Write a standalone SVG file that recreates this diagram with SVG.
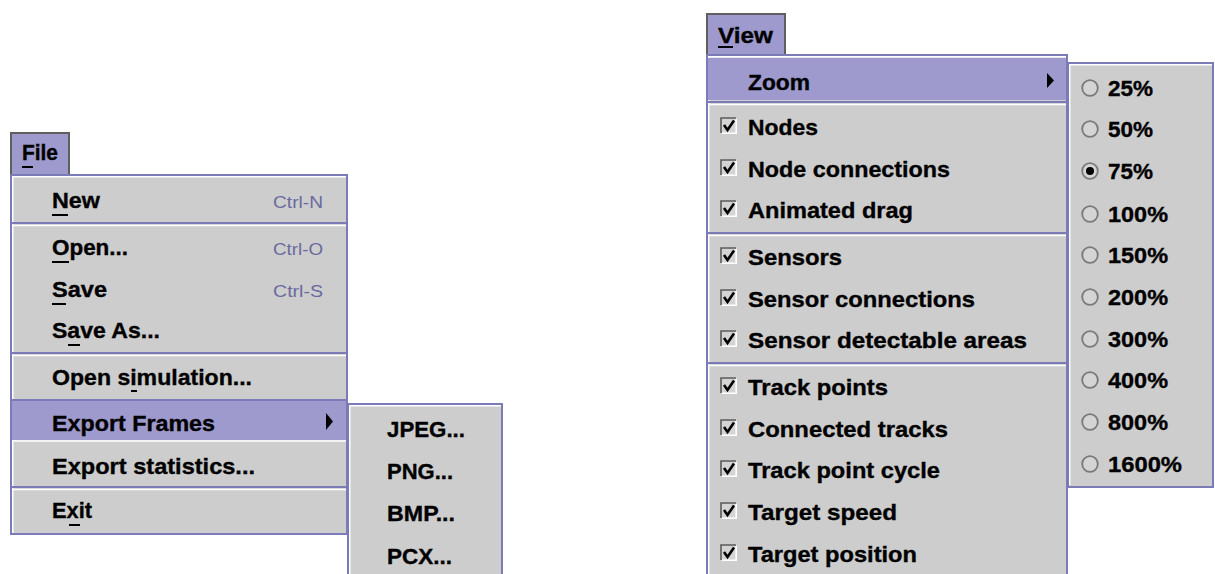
<svg xmlns="http://www.w3.org/2000/svg" width="1215" height="574" viewBox="0 0 1215 574">
<style>
.bg{fill:#cdcdcd}
.hl{fill:#9e9acd}
.bd{fill:none;stroke:#7b7bb8;stroke-width:2}
.inner{fill:none;stroke:#ffffff;stroke-width:1.5}
.hdr{fill:none;stroke:#5f5f5f;stroke-width:2}
.t{font-family:"Liberation Sans",Arial,sans-serif;font-weight:bold;font-size:22px;fill:#000;stroke:#000;stroke-width:0.35}
.acc{font-family:"Liberation Sans",Arial,sans-serif;font-size:16px;fill:#6a6aa0}
.s1{stroke:#7b7bb8;stroke-width:2}
.s2{stroke:#ffffff;stroke-width:1.5}
.ul{stroke:#000;stroke-width:2}
.cbd{fill:none;stroke:#5a5a5a;stroke-width:1.6}
.cbl{fill:none;stroke:#ffffff;stroke-width:1.6}
.ck{fill:none;stroke:#000;stroke-width:2.6;stroke-linejoin:miter}
.rd{fill:#d4d4d4;stroke:#7a7a7a;stroke-width:1.8}
.arr{fill:#000}
</style>

<!-- File menu -->
<g id="file-header">
  <rect x="10" y="132" width="60" height="42" class="hl"/>
  <path d="M11 174 V133 H69 V174" class="hdr"/>
  <text x="22" y="160" class="t" textLength="36" lengthAdjust="spacingAndGlyphs">File</text>
  <line x1="22" y1="167" x2="33" y2="167" class="ul"/>
</g>
<g id="file-menu">
  <rect x="10" y="174" width="338" height="361" class="bg"/>
  <rect x="11" y="175" width="336" height="359" class="bd"/>
  <path d="M12.75 533 V176.75 H346" class="inner"/>
  <g id="file-separators">
    <line x1="12" y1="223" x2="346" y2="223" class="s1"/><line x1="12" y1="225.5" x2="346" y2="225.5" class="s2"/>
    <line x1="12" y1="353" x2="346" y2="353" class="s1"/><line x1="12" y1="355.5" x2="346" y2="355.5" class="s2"/>
    <line x1="12" y1="400" x2="346" y2="400" class="s1"/>
    <line x1="12" y1="487" x2="346" y2="487" class="s1"/><line x1="12" y1="489.5" x2="346" y2="489.5" class="s2"/>
  </g>
  <g id="item-new">
    <text x="52" y="208" class="t" textLength="48" lengthAdjust="spacingAndGlyphs">New</text>
    <line x1="52" y1="215" x2="68" y2="215" class="ul"/>
    <text x="273" y="208" class="acc" textLength="50" lengthAdjust="spacingAndGlyphs">Ctrl-N</text>
  </g>
  <g id="item-open">
    <text x="52" y="255" class="t" textLength="76" lengthAdjust="spacingAndGlyphs">Open...</text>
    <line x1="52" y1="262" x2="69" y2="262" class="ul"/>
    <text x="273" y="255" class="acc" textLength="50" lengthAdjust="spacingAndGlyphs">Ctrl-O</text>
  </g>
  <g id="item-save">
    <text x="52" y="297" class="t" textLength="55" lengthAdjust="spacingAndGlyphs">Save</text>
    <line x1="52" y1="304" x2="66" y2="304" class="ul"/>
    <text x="273" y="297" class="acc" textLength="50" lengthAdjust="spacingAndGlyphs">Ctrl-S</text>
  </g>
  <g id="item-saveas">
    <text x="52" y="338" class="t" textLength="108" lengthAdjust="spacingAndGlyphs">Save As...</text>
    <line x1="68" y1="345" x2="80" y2="345" class="ul"/>
  </g>
  <g id="item-opensim">
    <text x="52" y="385" class="t" textLength="200" lengthAdjust="spacingAndGlyphs">Open simulation...</text>
    <line x1="131" y1="391" x2="137" y2="391" class="ul"/>
  </g>
  <g id="item-exportframes">
    <rect x="12" y="401" width="334" height="39" class="hl"/>
    <line x1="12" y1="441" x2="346" y2="441" class="s2"/>
    <text x="52" y="431" class="t" textLength="163" lengthAdjust="spacingAndGlyphs">Export Frames</text>
    <path d="M326 413 L326 430 L333 421.5 Z" class="arr"/>
  </g>
  <g id="item-exportstats">
    <text x="52" y="474" class="t" textLength="203" lengthAdjust="spacingAndGlyphs">Export statistics...</text>
  </g>
  <g id="item-exit">
    <text x="52" y="518" class="t" textLength="40" lengthAdjust="spacingAndGlyphs">Exit</text>
    <line x1="69" y1="525" x2="80" y2="525" class="ul"/>
  </g>
</g>

<!-- Export submenu -->
<g id="export-submenu">
  <rect x="347" y="403" width="156" height="175" class="bg"/>
  <path d="M348 580 V404 H502 V580" class="bd"/>
  <path d="M349.75 580 V405.75 H501" class="inner"/>
  <g id="item-jpeg"><text x="387" y="437" class="t" textLength="78" lengthAdjust="spacingAndGlyphs">JPEG...</text></g>
  <g id="item-png"><text x="387" y="479" class="t" textLength="66" lengthAdjust="spacingAndGlyphs">PNG...</text></g>
  <g id="item-bmp"><text x="387" y="521" class="t" textLength="68" lengthAdjust="spacingAndGlyphs">BMP...</text></g>
  <g id="item-pcx"><text x="387" y="564" class="t" textLength="65" lengthAdjust="spacingAndGlyphs">PCX...</text></g>
</g>

<!-- View menu -->
<g id="view-header">
  <rect x="706" y="13" width="80" height="41" class="hl"/>
  <path d="M707 54 V14 H785 V54" class="hdr"/>
  <text x="718" y="43" class="t" textLength="55" lengthAdjust="spacingAndGlyphs">View</text>
  <line x1="718" y1="47" x2="733" y2="47" class="ul"/>
</g>
<defs>
  <g id="chk">
    <rect x="0" y="0" width="17" height="17" fill="#d4d4d4"/>
    <path d="M1 16 V1 H16" class="cbd"/>
    <path d="M2 16.2 H16.2 V2" class="cbl"/>
    <path d="M4 8 L7.5 13 L14 3.5" class="ck"/>
  </g>
</defs>
<g id="view-menu">
  <rect x="706" y="54" width="362" height="530" class="bg"/>
  <path d="M707 580 V55 H1067 V580" class="bd"/>
  <path d="M708.75 580 V56.75 H1066" class="inner"/>
  <g id="view-separators">
    <line x1="708" y1="102" x2="1066" y2="102" class="s1"/><line x1="708" y1="104.5" x2="1066" y2="104.5" class="s2"/>
    <line x1="708" y1="233" x2="1066" y2="233" class="s1"/><line x1="708" y1="235.5" x2="1066" y2="235.5" class="s2"/>
    <line x1="708" y1="363" x2="1066" y2="363" class="s1"/><line x1="708" y1="365.5" x2="1066" y2="365.5" class="s2"/>
  </g>
  <g id="item-zoom">
    <rect x="708" y="58" width="358" height="42" class="hl"/>
    <text x="748" y="90" class="t" textLength="62" lengthAdjust="spacingAndGlyphs">Zoom</text>
    <path d="M1047 73 L1047 88 L1054 80.5 Z" class="arr"/>
  </g>
  <g id="item-nodes">
    <use href="#chk" x="720" y="117"/>
    <text x="748" y="135" class="t" textLength="70" lengthAdjust="spacingAndGlyphs">Nodes</text>
  </g>
  <g id="item-nodeconn">
    <use href="#chk" x="720" y="159"/>
    <text x="748" y="177" class="t" textLength="202" lengthAdjust="spacingAndGlyphs">Node connections</text>
  </g>
  <g id="item-animdrag">
    <use href="#chk" x="720" y="200"/>
    <text x="748" y="218" class="t" textLength="165" lengthAdjust="spacingAndGlyphs">Animated drag</text>
  </g>
  <g id="item-sensors">
    <use href="#chk" x="720" y="247"/>
    <text x="748" y="265" class="t" textLength="94" lengthAdjust="spacingAndGlyphs">Sensors</text>
  </g>
  <g id="item-sensorconn">
    <use href="#chk" x="720" y="289"/>
    <text x="748" y="307" class="t" textLength="227" lengthAdjust="spacingAndGlyphs">Sensor connections</text>
  </g>
  <g id="item-sensorareas">
    <use href="#chk" x="720" y="330"/>
    <text x="748" y="348" class="t" textLength="279" lengthAdjust="spacingAndGlyphs">Sensor detectable areas</text>
  </g>
  <g id="item-trackpoints">
    <use href="#chk" x="720" y="377"/>
    <text x="748" y="395" class="t" textLength="140" lengthAdjust="spacingAndGlyphs">Track points</text>
  </g>
  <g id="item-conntracks">
    <use href="#chk" x="720" y="419"/>
    <text x="748" y="437" class="t" textLength="200" lengthAdjust="spacingAndGlyphs">Connected tracks</text>
  </g>
  <g id="item-trackcycle">
    <use href="#chk" x="720" y="460"/>
    <text x="748" y="478" class="t" textLength="192" lengthAdjust="spacingAndGlyphs">Track point cycle</text>
  </g>
  <g id="item-targetspeed">
    <use href="#chk" x="720" y="502"/>
    <text x="748" y="520" class="t" textLength="149" lengthAdjust="spacingAndGlyphs">Target speed</text>
  </g>
  <g id="item-targetpos">
    <use href="#chk" x="720" y="544"/>
    <text x="748" y="562" class="t" textLength="169" lengthAdjust="spacingAndGlyphs">Target position</text>
  </g>
</g>

<!-- Zoom submenu -->
<g id="zoom-submenu">
  <rect x="1067" y="62" width="147" height="426" class="bg"/>
  <rect x="1068" y="63" width="145" height="424" class="bd"/>
  <path d="M1069.75 485 V64.75 H1212" class="inner"/>
  <g id="z25"><circle cx="1090" cy="88" r="7.8" class="rd"/><text x="1108" y="96" class="t" textLength="45" lengthAdjust="spacingAndGlyphs">25%</text></g>
  <g id="z50"><circle cx="1090" cy="129" r="7.8" class="rd"/><text x="1108" y="137" class="t" textLength="45" lengthAdjust="spacingAndGlyphs">50%</text></g>
  <g id="z75"><circle cx="1090" cy="171" r="7.8" class="rd"/><circle cx="1090" cy="171" r="4" fill="#000"/><text x="1108" y="179" class="t" textLength="45" lengthAdjust="spacingAndGlyphs">75%</text></g>
  <g id="z100"><circle cx="1090" cy="214" r="7.8" class="rd"/><text x="1108" y="222" class="t" textLength="60" lengthAdjust="spacingAndGlyphs">100%</text></g>
  <g id="z150"><circle cx="1090" cy="255" r="7.8" class="rd"/><text x="1108" y="263" class="t" textLength="60" lengthAdjust="spacingAndGlyphs">150%</text></g>
  <g id="z200"><circle cx="1090" cy="297" r="7.8" class="rd"/><text x="1108" y="305" class="t" textLength="60" lengthAdjust="spacingAndGlyphs">200%</text></g>
  <g id="z300"><circle cx="1090" cy="339" r="7.8" class="rd"/><text x="1108" y="347" class="t" textLength="60" lengthAdjust="spacingAndGlyphs">300%</text></g>
  <g id="z400"><circle cx="1090" cy="380" r="7.8" class="rd"/><text x="1108" y="388" class="t" textLength="60" lengthAdjust="spacingAndGlyphs">400%</text></g>
  <g id="z800"><circle cx="1090" cy="422" r="7.8" class="rd"/><text x="1108" y="430" class="t" textLength="60" lengthAdjust="spacingAndGlyphs">800%</text></g>
  <g id="z1600"><circle cx="1090" cy="464" r="7.8" class="rd"/><text x="1108" y="472" class="t" textLength="74" lengthAdjust="spacingAndGlyphs">1600%</text></g>
</g>
</svg>
